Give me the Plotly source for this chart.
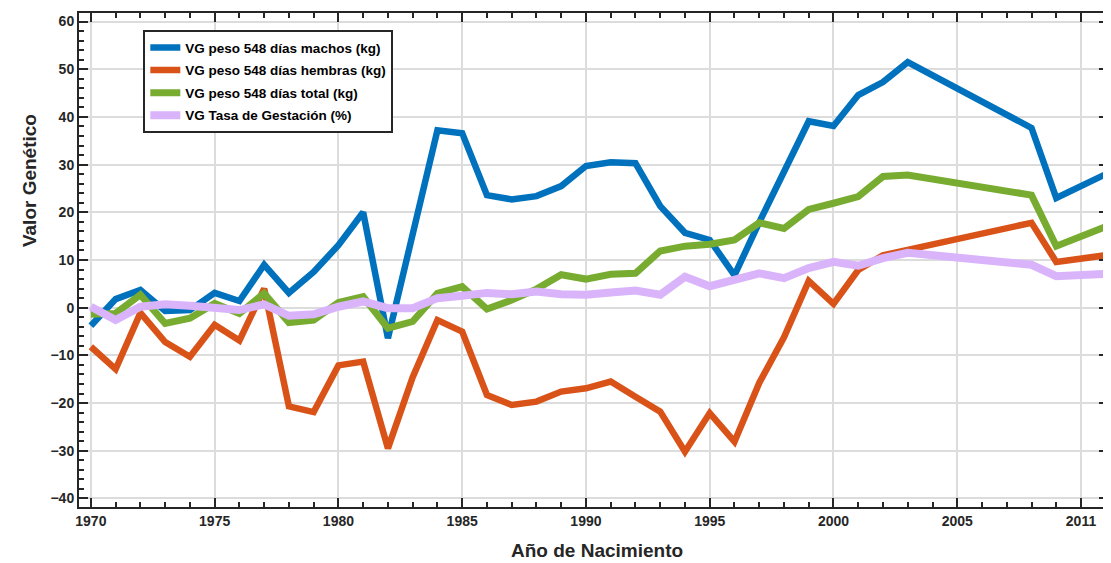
import plotly.graph_objects as go

years_a = [1970, 1971, 1972, 1973, 1974, 1975, 1976, 1977, 1978, 1979,
           1980, 1981, 1982, 1983, 1984, 1985, 1986, 1987, 1988, 1989,
           1990, 1991, 1992, 1993, 1994, 1995, 1996, 1997, 1998, 1999,
           2000, 2001, 2002, 2003, 2008, 2009, 2011]

machos = [-3.8, 1.8, 3.7, -0.7, -0.5, 3.1, 1.4, 9.0, 3.1, 7.5,
          13.1, 20.0, -6.4, 15.5, 37.2, 36.6, 23.6, 22.7, 23.4, 25.5,
          29.7, 30.5, 30.3, 21.3, 15.7, 14.2, 6.8, 17.9, 28.5, 39.1,
          38.1, 44.6, 47.3, 51.5, 37.7, 23.0, 28.0]

hembras = [-8.2, -12.9, -1.1, -7.2, -10.3, -3.6, -6.9, 4.0, -20.7, -21.9,
           -12.1, -11.3, -29.5, -14.6, -2.6, -5.0, -18.3, -20.4, -19.7, -17.6,
           -16.9, -15.5, -18.7, -21.8, -30.2, -22.1, -28.1, -15.8, -6.2, 5.6,
           0.8, 7.9, 11.0, 12.1, 17.8, 9.6, 11.0]

total = [-1.4, -1.2, 2.7, -3.3, -2.2, 0.9, -1.2, 3.0, -3.1, -2.6,
         1.1, 2.3, -4.3, -2.9, 3.0, 4.4, -0.3, 1.6, 3.9, 6.9,
         6.0, 7.0, 7.2, 11.9, 12.9, 13.3, 14.2, 17.8, 16.6, 20.6,
         21.9, 23.3, 27.5, 27.8, 23.6, 12.9, 17.0]

gestacion = [0.2, -2.6, 0.2, 0.7, 0.4, -0.1, -0.5, 0.7, -1.7, -1.4,
             0.2, 1.3, -0.1, -0.1, 2.0, 2.5, 3.1, 2.8, 3.4, 2.8,
             2.7, 3.2, 3.6, 2.7, 6.5, 4.5, 6.0, 7.2, 6.2, 8.3,
             9.6, 8.8, 10.4, 11.5, 9.0, 6.6, 7.1]

series_names = ["VG peso 548 días machos (kg)",
                "VG peso 548 días hembras (kg)",
                "VG peso 548 días total (kg)",
                "VG Tasa de Gestación (%)"]

x_tickvals = [1970, 1975, 1980, 1985, 1990, 1995, 2000, 2005, 2010]
x_ticktext = ["1970", "1975", "1980", "1985", "1990", "1995", "2000", "2005", "2011"]
y_tickvals = [-40, -30, -20, -10, 0, 10, 20, 30, 40, 50, 60]

colors = ["#0072BD", "#D95319", "#77AC30", "#DAB4FB"]
widths = [6.5, 6.5, 7, 8]

fig = go.Figure()
for i, (name, vals, c, w) in enumerate(zip(series_names, [machos, hembras, total, gestacion], colors, widths)):
    fig.add_trace(go.Scatter(x=years_a, y=vals, mode="lines", name=name,
                             legendgroup="g%d" % i,
                             line=dict(color=c, width=w)))

axis_col = "#262626"
font_fam = "Liberation Sans, Arial, sans-serif"

fig.update_layout(
    width=1103, height=555,
    margin=dict(l=71, r=1, t=5, b=56),
    paper_bgcolor="white", plot_bgcolor="white",
    font=dict(family=font_fam, color=axis_col),
    showlegend=True,
    legend=dict(x=0.0625, y=0.965, xanchor="left", yanchor="top",
                bgcolor="white", bordercolor=axis_col, borderwidth=2,
                font=dict(size=13.5, family=font_fam, color="black", weight="bold"),
                itemwidth=30, tracegroupgap=2,
                entrywidth=221, entrywidthmode="pixels"),
    xaxis=dict(range=[1969.52, 2011.09], tickvals=x_tickvals, ticktext=x_ticktext,
               ticks="inside", ticklen=9, tickwidth=2, tickcolor=axis_col,
               minor=dict(dtick=1, tick0=1970, ticks="inside", ticklen=5, tickwidth=1.5,
                          tickcolor=axis_col, showgrid=False),
               showline=True, linecolor=axis_col, linewidth=2, mirror="ticks",
               showgrid=True, gridcolor="#DCDCDC", gridwidth=1.5, zeroline=False,
               tickfont=dict(size=14, family=font_fam, color=axis_col, weight="bold")),
    yaxis=dict(range=[-41.8, 61.8], tickvals=y_tickvals,
               ticks="inside", ticklen=9, tickwidth=2, tickcolor=axis_col,
               minor=dict(dtick=2, tick0=0, ticks="inside", ticklen=5, tickwidth=1.5,
                          tickcolor=axis_col, showgrid=False),
               showline=True, linecolor=axis_col, linewidth=2, mirror="ticks",
               showgrid=True, gridcolor="#DCDCDC", gridwidth=1.5, zeroline=False,
               tickfont=dict(size=14, family=font_fam, color=axis_col, weight="bold")),
    annotations=[
        dict(text="<b>Año de Nacimiento</b>", xref="paper", yref="paper",
             x=0.503, y=-0.089, xanchor="center", yanchor="middle", showarrow=False,
             font=dict(size=19, family=font_fam, color=axis_col)),
        dict(text="<b>Valor Genético</b>", xref="paper", yref="paper",
             x=-0.0475, y=0.66, xanchor="center", yanchor="middle", showarrow=False,
             textangle=-90, font=dict(size=19, family=font_fam, color=axis_col)),
    ],
)

fig.write_html("out.html")
